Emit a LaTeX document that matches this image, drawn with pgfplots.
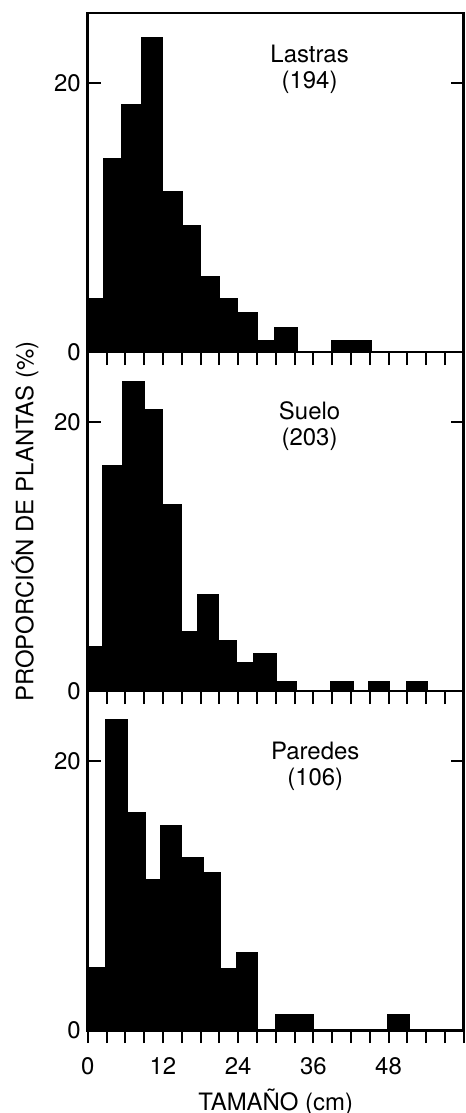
\documentclass[border=0pt]{standalone}
\usepackage{fontspec}
\setmainfont{TeX Gyre Heros}
\usepackage{pgfplots}
\pgfplotsset{compat=1.18}
\usetikzlibrary{calc}

\pgfplotsset{
  panel/.style={
    scale only axis, width=188.5pt, height=170pt,
    xmin=0, xmax=60, ymin=0, ymax=25.2,
    axis line style={line width=1.3pt},
    tick align=inside, major tick length=6.5pt,
    tick style={black, line width=1pt},
    xtick={0,3,...,60}, xtick pos=left, xticklabels={},
    x tick style={yshift=-6.5pt},
    ytick={0,20}, ytick pos=both, yticklabel pos=left,
    /pgf/number format/assume math mode=true,
    ticklabel style={font=\fontsize{12}{14}\selectfont},
    xticklabel style={yshift=-10pt},
  },
  bars/.style={ybar interval, fill=black, draw=black, line width=0.5pt},
}

\begin{document}
\begin{tikzpicture}
  % Lastras
  \begin{axis}[panel, name=p1]
    \addplot[bars] coordinates {(0,4.0)(2.5,14.35)(5.4,18.4)(8.6,23.4)(12.0,11.9)(15.1,9.4)(18.0,5.6)(21.0,4.0)(23.9,2.95)(27.1,0.84)(29.8,1.8)(33.5,0)(38.9,0.84)(45.3,0)(60,0)};
    \node[align=center, font=\fontsize{12}{13}\selectfont] at (axis cs:35.4,21.0) {Lastras\\(194)};
  \end{axis}
  % Suelo
  \begin{axis}[panel, name=p2, at={(p1.south west)}, anchor=north west]
    \addplot[bars] coordinates {(0,3.3)(2.3,16.75)(5.5,23.0)(9.0,20.9)(12.0,13.9)(15.0,4.4)(17.5,7.2)(20.8,3.8)(23.8,2.1)(26.4,2.8)(30.1,0.75)(33.3,0)(38.8,0.72)(42.4,0)(44.8,0.72)(48.1,0)(50.9,0.72)(54.2,0)(60,0)};
    \node[align=center, font=\fontsize{12}{13}\selectfont] at (axis cs:35.4,19.7) {Suelo\\(203)};
  \end{axis}
  % Paredes
  \begin{axis}[panel, name=p3, at={(p2.south west)}, anchor=north west,
      xticklabels={0,,,,12,,,,24,,,,36,,,,48,,,,},
      xlabel={TAMAÑO (cm)},
      xlabel style={at={(axis description cs:0.5,0)}, anchor=center, yshift=-36pt, font=\fontsize{12}{14}\selectfont}]
    \addplot[bars] coordinates {(0,4.66)(2.9,23.1)(6.35,16.2)(9.2,11.2)(11.6,15.2)(15.0,12.8)(18.4,11.7)(21.2,4.6)(23.7,5.75)(27.1,0)(30.0,1.2)(36.0,0)(47.8,1.2)(51.4,0)(60,0)};
    \node[align=center, font=\fontsize{12}{13}\selectfont] at (axis cs:36.3,19.6) {Paredes\\(106)};
  \end{axis}
  \node[rotate=90, anchor=center, font=\fontsize{12}{14}\selectfont]
    at ($(p2.south west)!0.5!(p2.north west)+(-31.5pt,0)$) {PROPORCIÓN DE PLANTAS (\%)};
  \pgfresetboundingbox
  \path ($(p3.south west)+(-44pt,-41.5pt)$) rectangle ($(p1.north east)+(1pt,6.5pt)$);
\end{tikzpicture}
\end{document}
